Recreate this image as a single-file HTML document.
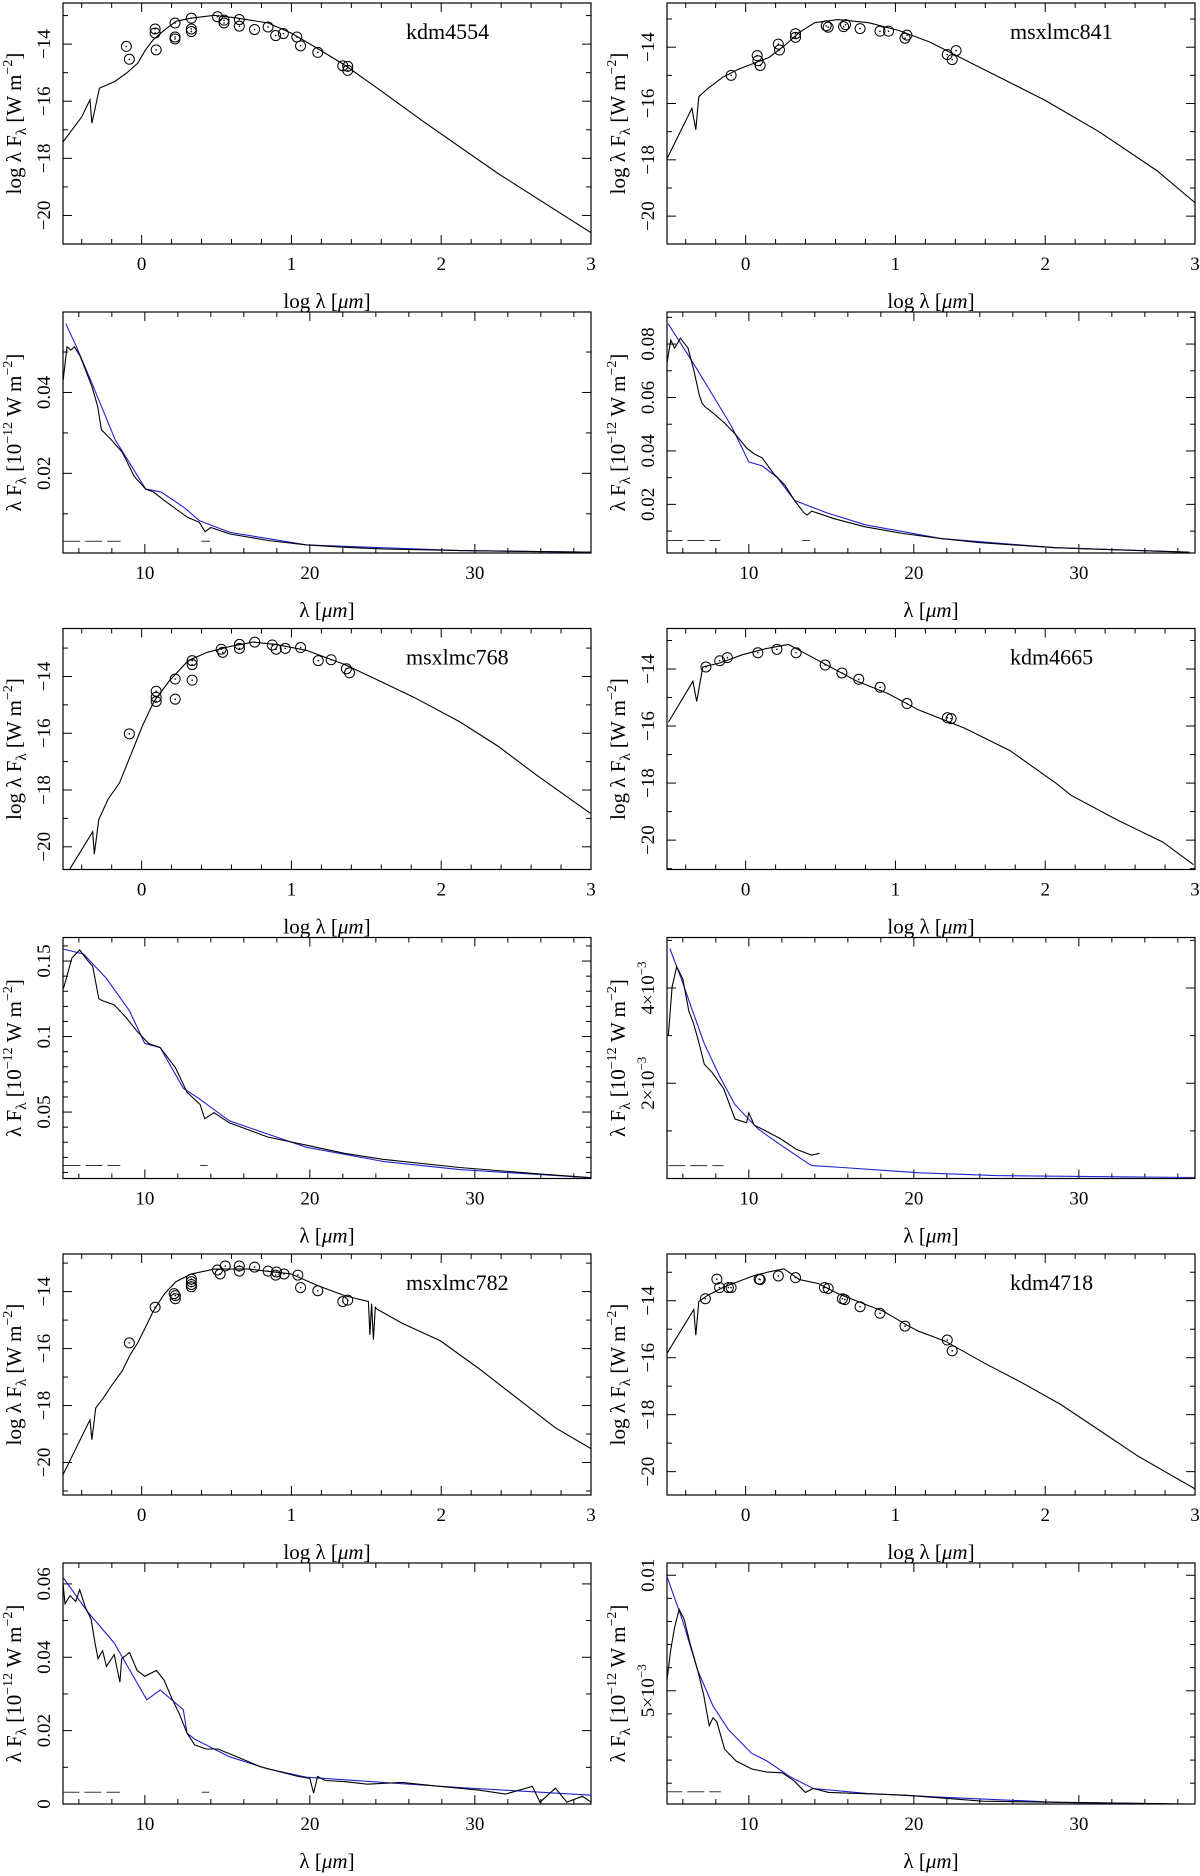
<!DOCTYPE html>
<html><head><meta charset="utf-8"><style>
html,body{margin:0;padding:0;background:#fff;}
svg{display:block;font-family:"Liberation Serif",serif;}
</style></head><body>
<svg id="fig" width="1200" height="1876" viewBox="0 0 1200 1876" xmlns="http://www.w3.org/2000/svg">
<rect width="1200" height="1876" fill="#fff"/>
</svg>
<script>
// ---- Panel data ----
const kdm4554_modelX=[-0.524,-0.40,-0.345,-0.332,-0.294,-0.281,-0.179,-0.102,-0.026,0.026,0.077,0.153,0.230,0.332,0.486,0.639,0.844,0.997,1.151,1.355,1.560,1.867,2.379,3.0];
const kdm4554_modelY=[-17.42,-16.55,-15.95,-16.77,-15.84,-15.54,-15.31,-15.02,-14.67,-14.20,-13.85,-13.50,-13.20,-13.09,-12.99,-13.09,-13.26,-13.61,-14.08,-14.73,-15.49,-16.66,-18.53,-20.60];
const kdm4554_obsX=[-0.102,-0.082,0.090,0.097,0.090,0.223,0.223,0.223,0.332,0.332,0.332,0.506,0.550,0.550,0.652,0.652,0.754,0.844,0.895,0.946,1.036,1.061,1.176,1.343,1.376,1.376];
const kdm4554_obsY=[-14.08,-14.53,-13.61,-14.20,-13.47,-13.26,-13.75,-13.82,-13.09,-13.47,-13.56,-13.04,-13.16,-13.26,-13.14,-13.37,-13.49,-13.40,-13.70,-13.63,-13.75,-14.06,-14.29,-14.76,-14.78,-14.92];

const kdm4554_specX=[5.05,5.28,5.51,5.74,6.09,6.79,7.14,7.37,7.95,8.65,9.35,10.05,10.51,11.21,11.91,12.60,13.30,13.65,14.0,15.16,17.49,19.81,22.14,24.47,29.12,37.09];
const kdm4554_specY=[0.0431,0.0513,0.0505,0.0513,0.0489,0.0415,0.0366,0.0308,0.0284,0.0251,0.0193,0.0161,0.0154,0.0132,0.0111,0.0091,0.0079,0.0056,0.0066,0.0050,0.0034,0.0023,0.0017,0.0013,0.0009,0.0005];
const kdm4554_fitX=[5.21,5.86,6.79,8.19,10.05,10.98,12.37,13.30,15.16,19.81,29.12,37.09];
const kdm4554_fitY=[0.0570,0.0513,0.0423,0.0284,0.0161,0.0154,0.0116,0.0083,0.0054,0.0023,0.0009,0.0005];
const kdm4554_dashX=[[5.05,8.53],[13.42,13.95]];
const kdm4554_dashY=[0.0032];

const msxlmc841_modelX=[-0.523,-0.359,-0.333,-0.313,-0.256,-0.154,-0.051,0.051,0.154,0.256,0.359,0.462,0.615,0.821,1.026,1.231,1.538,2.0,2.359,2.744,3.008];
const msxlmc841_modelY=[-17.94,-16.17,-16.93,-15.76,-15.48,-15.07,-14.79,-14.58,-14.37,-13.96,-13.47,-13.13,-13.02,-13.13,-13.41,-13.82,-14.65,-15.89,-17.0,-18.38,-19.56];
const msxlmc841_obsX=[-0.097,0.077,0.082,0.097,0.218,0.226,0.333,0.333,0.538,0.551,0.654,0.667,0.764,0.897,0.954,1.064,1.077,1.346,1.379,1.405];
const msxlmc841_obsY=[-15.0,-14.30,-14.48,-14.65,-13.89,-14.10,-13.52,-13.65,-13.24,-13.29,-13.27,-13.20,-13.34,-13.43,-13.43,-13.68,-13.57,-14.26,-14.44,-14.12];

const msxlmc841_specX=[4.95,5.27,5.50,5.85,6.31,6.66,7.0,7.16,7.35,7.81,8.50,9.19,9.88,10.35,10.81,11.50,12.19,12.77,13.34,13.53,13.81,15.19,17.04,19.34,21.65,23.96,28.57,33.18,36.71];
const msxlmc841_specY=[0.0697,0.0815,0.0785,0.0822,0.0785,0.0704,0.0609,0.0579,0.0565,0.0543,0.0506,0.0462,0.0410,0.0388,0.0374,0.0315,0.0271,0.0215,0.0168,0.0160,0.0175,0.0146,0.0116,0.0091,0.0072,0.0057,0.0038,0.0028,0.0021];
const msxlmc841_fitX=[5.11,6.66,7.81,8.96,10.0,10.81,11.73,12.77,14.73,17.04,21.65,28.57,36.71];
const msxlmc841_fitY=[0.0876,0.0726,0.0609,0.0491,0.0359,0.0344,0.0300,0.0215,0.0168,0.0124,0.0072,0.0038,0.0021];
const msxlmc841_dashX=[[4.95,8.27],[13.23,13.69]];
const msxlmc841_dashY=[0.0065];

const msxlmc768_modelX=[-0.480,-0.327,-0.316,-0.286,-0.224,-0.148,-0.071,0.005,0.082,0.184,0.311,0.439,0.592,0.745,0.898,1.102,1.357,1.561,1.816,2.122,2.378,2.633,2.995];
const msxlmc768_modelY=[-20.79,-19.47,-20.26,-19.04,-18.32,-17.75,-16.74,-15.74,-14.88,-14.16,-13.44,-13.15,-12.94,-12.79,-12.87,-13.08,-13.58,-14.09,-14.73,-15.59,-16.45,-17.46,-18.82];
const msxlmc768_obsX=[-0.082,0.097,0.097,0.097,0.224,0.224,0.337,0.337,0.337,0.531,0.541,0.653,0.653,0.755,0.872,0.898,0.959,1.061,1.179,1.265,1.367,1.388];
const msxlmc768_obsY=[-16.02,-14.52,-14.73,-14.88,-14.09,-14.80,-13.44,-13.58,-14.13,-13.04,-13.15,-12.87,-13.01,-12.79,-12.89,-13.04,-13.01,-12.98,-13.44,-13.41,-13.73,-13.87];

const msxlmc768_specX=[5.07,5.58,6.05,6.51,6.84,7.21,7.44,8.14,8.84,9.53,10.23,10.93,11.86,12.56,13.35,13.63,14.19,15.12,17.44,19.77,22.09,24.42,29.07,33.72,37.02];
const msxlmc768_specY=[0.1318,0.1520,0.1574,0.1506,0.1466,0.1251,0.1237,0.1210,0.1129,0.1035,0.0954,0.0927,0.0793,0.0631,0.0550,0.0456,0.0496,0.0429,0.0335,0.0281,0.0227,0.0187,0.0133,0.0092,0.0065];
const msxlmc768_fitX=[5.07,6.28,7.67,9.07,10.0,10.93,12.33,13.26,15.12,19.77,24.42,29.07,37.02];
const msxlmc768_fitY=[0.1579,0.1547,0.1385,0.1170,0.0954,0.0927,0.0658,0.0591,0.0442,0.0267,0.0173,0.0119,0.0065];
const msxlmc768_dashX=[[5.07,8.51],[13.35,13.81]];
const msxlmc768_dashY=[0.0146];

const kdm4665_modelX=[-0.515,-0.352,-0.327,-0.286,-0.173,-0.020,0.133,0.286,0.388,0.541,0.745,0.949,1.153,1.459,1.765,2.071,2.173,2.480,2.786,2.990];
const kdm4665_modelY=[-15.86,-14.43,-15.14,-13.93,-13.79,-13.50,-13.29,-13.14,-13.43,-13.86,-14.43,-14.86,-15.43,-16.07,-16.86,-18.0,-18.43,-19.29,-20.07,-20.86];
const kdm4665_obsX=[-0.265,-0.173,-0.122,0.082,0.209,0.337,0.531,0.643,0.755,0.898,1.077,1.347,1.372];
const kdm4665_obsY=[-13.93,-13.71,-13.60,-13.43,-13.31,-13.43,-13.86,-14.14,-14.36,-14.64,-15.21,-15.71,-15.74];

const kdm4665_specX=[5.12,5.35,5.63,6.0,6.37,6.65,6.93,7.30,7.77,8.47,9.16,9.86,10.0,10.33,11.02,11.95,12.88,13.81,14.28];
const kdm4665_specY=[0.00300,0.00402,0.00445,0.00419,0.00351,0.00325,0.00291,0.00240,0.00223,0.00189,0.00125,0.00117,0.00138,0.00112,0.00100,0.00083,0.00061,0.00049,0.00053];
const kdm4665_fitX=[5.21,5.91,6.60,7.30,8.23,9.16,10.56,11.95,13.58,13.81,15.67,20.33,24.98,37.02];
const kdm4665_fitY=[0.00483,0.00419,0.00351,0.00283,0.00215,0.00155,0.00104,0.00070,0.00032,0.00027,0.00023,0.00012,0.00006,0.00002];
const kdm4665_dashX=[[5.12,8.47]];
const kdm4665_dashY=[0.00027];

const msxlmc782_modelX=[-0.524,-0.345,-0.332,-0.307,-0.256,-0.205,-0.128,-0.077,-0.026,0.026,0.077,0.153,0.230,0.332,0.486,0.716,0.997,1.176,1.355,1.514,1.524,1.535,1.547,1.560,1.573,1.739,1.995,2.251,2.506,2.762,3.0];
const msxlmc782_modelY=[-20.42,-18.50,-19.20,-18.09,-17.74,-17.33,-16.77,-16.22,-15.80,-15.25,-14.69,-14.07,-13.65,-13.38,-13.21,-13.21,-13.38,-13.79,-14.14,-14.35,-15.52,-14.42,-15.69,-14.55,-14.62,-15.11,-15.73,-16.70,-17.74,-18.78,-19.51];
const msxlmc782_obsX=[-0.082,0.090,0.217,0.225,0.225,0.332,0.332,0.332,0.332,0.506,0.524,0.558,0.652,0.652,0.754,0.844,0.895,0.900,0.951,1.043,1.061,1.176,1.343,1.376];
const msxlmc782_obsY=[-15.80,-14.55,-14.07,-14.14,-14.25,-13.56,-13.65,-13.75,-13.83,-13.24,-13.38,-13.10,-13.10,-13.28,-13.14,-13.28,-13.42,-13.31,-13.38,-13.42,-13.86,-13.97,-14.35,-14.30];

const msxlmc782_specX=[5.0,5.16,5.47,5.81,6.05,6.40,6.74,6.98,7.16,7.44,7.67,8.14,8.49,8.60,9.07,9.53,10.0,10.70,11.16,11.63,12.09,12.56,13.02,13.72,14.42,15.58,16.98,17.91,19.30,20.0,20.23,20.47,20.93,22.09,23.49,25.58,27.91,30.23,31.86,33.49,33.95,34.88,35.58,36.51,37.05];
const msxlmc782_specY=[0.0621,0.0546,0.0568,0.0552,0.0584,0.0536,0.0504,0.0439,0.0396,0.0418,0.0375,0.0407,0.0332,0.0396,0.0413,0.0364,0.0348,0.0364,0.0338,0.0289,0.0246,0.0193,0.0161,0.0150,0.0150,0.0129,0.0102,0.0091,0.0075,0.0070,0.0030,0.0075,0.0064,0.0061,0.0054,0.0059,0.0048,0.0038,0.0027,0.0048,0.0005,0.0043,0.0005,0.0021,0.0005];
const msxlmc782_fitX=[5.07,6.51,8.14,10.12,10.93,11.63,12.33,12.56,13.02,15.12,17.44,19.77,24.42,29.07,37.05];
const msxlmc782_fitY=[0.0616,0.0525,0.0439,0.0284,0.0311,0.0284,0.0257,0.0193,0.0177,0.0129,0.0096,0.0073,0.0059,0.0045,0.0024];
const msxlmc782_dashX=[[5.0,8.49],[13.44,13.91]];
const msxlmc782_dashY=[0.0032];

const kdm4718_modelX=[-0.523,-0.346,-0.333,-0.313,-0.256,-0.154,-0.051,0.051,0.154,0.256,0.359,0.487,0.615,0.718,0.821,0.923,1.077,1.154,1.333,1.590,1.846,2.103,2.359,2.615,3.008];
const kdm4718_modelY=[-15.83,-14.31,-15.21,-14.03,-13.82,-13.54,-13.33,-13.13,-12.99,-12.88,-13.26,-13.40,-13.75,-13.96,-14.17,-14.38,-14.86,-15.07,-15.42,-16.18,-16.88,-17.64,-18.54,-19.44,-20.63];
const kdm4718_obsX=[-0.269,-0.192,-0.174,-0.115,-0.097,0.090,0.097,0.218,0.333,0.526,0.551,0.646,0.662,0.764,0.897,1.064,1.346,1.379];
const kdm4718_obsY=[-13.93,-13.24,-13.54,-13.54,-13.54,-13.24,-13.26,-13.13,-13.19,-13.54,-13.57,-13.93,-13.96,-14.21,-14.44,-14.89,-15.38,-15.76];

const kdm4718_specX=[4.94,5.26,5.50,5.78,6.08,6.43,6.90,7.25,7.60,7.83,8.06,8.53,9.23,10.16,11.10,12.03,12.73,13.43,13.90,14.83,19.50,24.17,37.07];
const kdm4718_specY=[0.00489,0.00673,0.00775,0.00852,0.00809,0.00707,0.00588,0.00486,0.00349,0.00383,0.00366,0.00247,0.00196,0.00162,0.00148,0.00145,0.00111,0.00060,0.00077,0.00060,0.00048,0.00022,0.00009];
const kdm4718_fitX=[5.03,5.96,6.90,7.83,8.76,10.16,11.10,12.50,13.90,17.16,21.83,28.83,37.07];
const kdm4718_fitY=[0.00997,0.00809,0.00588,0.00434,0.00332,0.00230,0.00196,0.00128,0.00077,0.00056,0.00039,0.00017,0.00009];
const kdm4718_dashX=[[4.94,8.30]];
const kdm4718_dashY=[0.00063];

// tick label arrays
const logXTickLabels=[0,1,2,3];
const logYTickLabels=[-14,-16,-18,-20];
const linXTickLabels=[10,20,30];

const NS='http://www.w3.org/2000/svg';
const svg=document.getElementById('fig');
function mk(tag,attrs,parent){const e=document.createElementNS(NS,tag);for(const k in attrs)e.setAttribute(k,attrs[k]);(parent||svg).appendChild(e);return e;}
function rng(a,b,s){const r=[];const st=Math.ceil(a/s-1e-6);for(let i=st;i*s<=b+1e-9;i++)r.push(+(i*s).toFixed(6));return r;}
function pathD(xs,ys,sx,sy){return xs.map((v,i)=>(i?'L':'M')+sx(v).toFixed(1)+' '+sy(ys[i]).toFixed(1)).join(' ');}

let clipN=0;
function frame(x0,y0,w,h,dx,dy,xmin,xmaj,ymin,ymaj,name){
  const g=mk('g',{});
  
  
  const sx=v=>x0+(v-dx[0])/(dx[1]-dx[0])*w;
  const sy=v=>y0+h-(v-dy[0])/(dy[1]-dy[0])*h;
  const ax=mk('g',{stroke:'#000','stroke-width':1},g);
  
  
  rng(dx[0],dx[1],xmin).forEach(v=>{const maj=Math.abs(v/xmaj-Math.round(v/xmaj))<1e-6;const L=maj?9:5;const X=sx(v);
    mk('line',{x1:X,y1:y0+h,x2:X,y2:y0+h-L},ax);mk('line',{x1:X,y1:y0,x2:X,y2:y0+L},ax);});
  rng(dy[0],dy[1],ymin).forEach(v=>{const maj=Math.abs(v/ymaj-Math.round(v/ymaj))<1e-6;const L=maj?9:5;const Y=sy(v);
    mk('line',{x1:x0,y1:Y,x2:x0+L,y2:Y},ax);mk('line',{x1:x0+w,y1:Y,x2:x0+w-L,y2:Y},ax);});
  const r=mk('rect',{x:x0,y:y0,width:w,height:h,fill:'none',stroke:'#000','stroke-width':1.2},g);
  
  
  clipN++;
  const cp=mk('clipPath',{id:'c'+clipN},g);mk('rect',{x:x0,y:y0,width:w,height:h},cp);
  const plot=mk('g',{'clip-path':'url(#c'+clipN+')'},g);
  return {g,plot,sx,sy};
}
function ytl(g,x,y,txt,name,sup){
  const t=mk('text',{x:0,y:0,transform:'translate('+x+','+y+') rotate(-90)','text-anchor':'middle','font-size':19},g);
  t.textContent=txt;
  if(sup){const s=mk('tspan',{'font-size':13,dy:-8},t);s.textContent=sup;}
  
  
}
function yTitle(g,x,y,lin){
  const t=mk('text',{x:0,y:0,transform:'translate('+x+','+y+') rotate(-90)','text-anchor':'middle','font-size':21},g);
  const parts=lin?[['λ F',0,21],['λ',5,15],[' [10',-5,21],['−12',-9,14],[' W m',9,21],['−2',-9,14],[']',9,21]]
                 :[['log λ F',0,21],['λ',5,15],[' [W m',-5,21],['−2',-9,14],[']',9,21]];
  parts.forEach(p=>{const s=mk('tspan',{dy:p[1],'font-size':p[2]},t);s.textContent=p[0];});
  
  
}
function xTitle(g,x,y,lin){
  const t=mk('text',{x:x,y:y,'text-anchor':'middle','font-size':21},g);
  const a=mk('tspan',{},t);a.textContent=lin?'λ [':'log λ [';
  const b=mk('tspan',{'font-style':'italic'},t);b.textContent='μm';
  const c=mk('tspan',{},t);c.textContent=']';
  
  
}

function logPanel(x0,y0,dy,name,mX,mY,oX,oY){
  const w=528,h=241;
  const P=frame(x0,y0,w,h,[-0.525,3.0],dy,0.2,1,1,2,name+'-sed');
  const {g,plot,sx,sy}=P;
  const m=mk('path',{d:pathD(mX,mY,sx,sy),fill:'none',stroke:'#000','stroke-width':1.1},plot);
  
  
  oX.forEach((v,i)=>{
    const c=mk('circle',{cx:sx(v),cy:sy(oY[i]),r:5,fill:'none',stroke:'#000','stroke-width':1},plot);
    
    
    mk('circle',{cx:sx(v),cy:sy(oY[i]),r:0.8,fill:'#000'},plot);
  });
  logXTickLabels.forEach(v=>{const t=mk('text',{x:sx(v),y:y0+h+26,'text-anchor':'middle','font-size':19},g);t.textContent=String(v);
    
    });
  logYTickLabels.forEach(v=>{ytl(g,x0-13,sy(v),'−'+Math.abs(v),'y-tick-label');});
  yTitle(g,x0-42,y0+h/2,false);
  xTitle(g,x0+w/2,y0+h+64,false);
  const nm=mk('text',{x:x0+343,y:y0+36,'font-size':22},g);nm.textContent=name;
  
  
}
function linPanel(x0,y0,dy,ymin,ymaj,ylabels,name,sX,sY,fX,fY,dX,dY){
  const w=528,h=241;
  const P=frame(x0,y0,w,h,[5.04,37.04],dy,2,10,ymin,ymaj,name+'-spectrum');
  const {g,plot,sx,sy}=P;
  dX.forEach(seg=>{const l=mk('line',{x1:sx(seg[0]),x2:sx(seg[1]),y1:sy(dY[0]),y2:sy(dY[0]),stroke:'#333','stroke-width':1,'stroke-dasharray':'17,5'},plot);
    
    });
  const b=mk('path',{d:pathD(fX,fY,sx,sy),fill:'none',stroke:'#2020d0','stroke-width':1.1},plot);
  
  
  const k=mk('path',{d:pathD(sX,sY,sx,sy),fill:'none',stroke:'#000','stroke-width':1.1},plot);
  
  
  linXTickLabels.forEach(v=>{const t=mk('text',{x:sx(v),y:y0+h+26,'text-anchor':'middle','font-size':19},g);t.textContent=String(v);
    
    });
  ylabels.forEach(L=>ytl(g,x0-13,sy(L[0]),L[1],'y-tick-label',L[2]));
  yTitle(g,x0-42,y0+h/2,true);
  xTitle(g,x0+w/2,y0+h+64,true);
}

const L=63,R=667;
logPanel(L,3,[-21.0,-12.56],'kdm4554',kdm4554_modelX,kdm4554_modelY,kdm4554_obsX,kdm4554_obsY);
logPanel(R,3,[-20.99,-12.43],'msxlmc841',msxlmc841_modelX,msxlmc841_modelY,msxlmc841_obsX,msxlmc841_obsY);
logPanel(L,628.5,[-20.8,-12.31],'msxlmc768',msxlmc768_modelX,msxlmc768_modelY,msxlmc768_obsX,msxlmc768_obsY);
logPanel(R,628.5,[-21.03,-12.58],'kdm4665',kdm4665_modelX,kdm4665_modelY,kdm4665_obsX,kdm4665_obsY);
logPanel(L,1254,[-21.14,-12.68],'msxlmc782',msxlmc782_modelX,msxlmc782_modelY,msxlmc782_obsX,msxlmc782_obsY);
logPanel(R,1254,[-20.82,-12.36],'kdm4718',kdm4718_modelX,kdm4718_modelY,kdm4718_obsX,kdm4718_obsY);

linPanel(L,312,[0.0003,0.0599],0.01,0.02,[[0.02,'0.02'],[0.04,'0.04']],'kdm4554',kdm4554_specX,kdm4554_specY,kdm4554_fitX,kdm4554_fitY,kdm4554_dashX,kdm4554_dashY);
linPanel(R,312,[0.0018,0.092],0.01,0.02,[[0.02,'0.02'],[0.04,'0.04'],[0.06,'0.06'],[0.08,'0.08']],'msxlmc841',msxlmc841_specX,msxlmc841_specY,msxlmc841_fitX,msxlmc841_fitY,msxlmc841_dashX,msxlmc841_dashY);
linPanel(L,937.5,[0.006,0.1656],0.01,0.05,[[0.05,'0.05'],[0.1,'0.1'],[0.15,'0.15']],'msxlmc768',msxlmc768_specX,msxlmc768_specY,msxlmc768_fitX,msxlmc768_fitY,msxlmc768_dashX,msxlmc768_dashY);
linPanel(R,937.5,[0,0.00506],0.001,0.002,[[0.002,'2×10','−3'],[0.004,'4×10','−3']],'kdm4665',kdm4665_specX,kdm4665_specY,kdm4665_fitX,kdm4665_fitY,kdm4665_dashX,kdm4665_dashY);
linPanel(L,1563,[0,0.0657],0.01,0.02,[[0,'0'],[0.02,'0.02'],[0.04,'0.04'],[0.06,'0.06']],'msxlmc782',msxlmc782_specX,msxlmc782_specY,msxlmc782_fitX,msxlmc782_fitY,msxlmc782_dashX,msxlmc782_dashY);
linPanel(R,1563,[0.0001,0.01053],0.001,0.005,[[0.005,'5×10','−3'],[0.01,'0.01']],'kdm4718',kdm4718_specX,kdm4718_specY,kdm4718_fitX,kdm4718_fitY,kdm4718_dashX,kdm4718_dashY);
</script>
</body></html>
